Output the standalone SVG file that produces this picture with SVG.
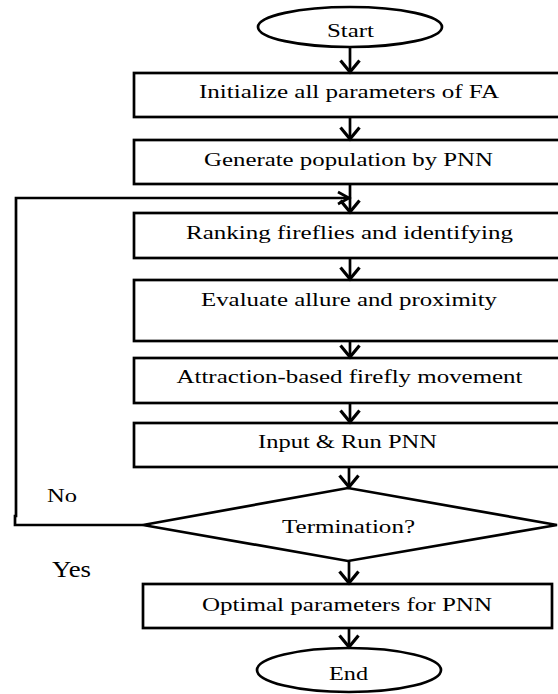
<svg xmlns="http://www.w3.org/2000/svg" width="558" height="694" viewBox="0 0 558 694">
<style>
.n{fill:#fff;stroke:#000;stroke-width:2.7}
.t{font-family:"Liberation Serif","Times New Roman",serif;font-size:19px;fill:#000;text-anchor:middle}
.l{font-family:"Liberation Serif","Times New Roman",serif;fill:#000}
.c{fill:none;stroke:#000;stroke-width:2.7}
</style>
<defs>
<marker id="ah" markerWidth="16" markerHeight="22" refX="14" refY="11" markerUnits="userSpaceOnUse" orient="auto" viewBox="0 0 16 22">
<path d="M1.5,1.5 L13,11 L1.5,20.5" fill="none" stroke="#000" stroke-width="3.2"/>
</marker>
<marker id="ahr" markerWidth="16" markerHeight="16" refX="14" refY="8" markerUnits="userSpaceOnUse" orient="auto" viewBox="0 0 16 16">
<path d="M2,2 L13,8 L2,14" fill="none" stroke="#000" stroke-width="2.7"/>
</marker>
</defs>
<g id="start">
<ellipse class="n" cx="350" cy="27" rx="92" ry="20"/>
<text class="t" x="350.5" y="37" textLength="47" lengthAdjust="spacingAndGlyphs">Start</text>
</g>
<g id="init">
<rect class="n" x="134" y="73" width="430" height="44"/>
<text class="t" x="349" y="98" textLength="300" lengthAdjust="spacingAndGlyphs">Initialize all parameters of FA</text>
</g>
<g id="generate">
<rect class="n" x="134" y="140" width="430" height="44"/>
<text class="t" x="348.5" y="166" textLength="289" lengthAdjust="spacingAndGlyphs">Generate population by PNN</text>
</g>
<g id="ranking">
<rect class="n" x="134" y="213" width="430" height="45"/>
<text class="t" x="349.5" y="239" textLength="327" lengthAdjust="spacingAndGlyphs">Ranking fireflies and identifying</text>
</g>
<g id="evaluate">
<rect class="n" x="134" y="280" width="430" height="61"/>
<text class="t" x="349" y="306" textLength="296" lengthAdjust="spacingAndGlyphs">Evaluate allure and proximity</text>
</g>
<g id="attraction">
<rect class="n" x="134" y="358" width="430" height="45"/>
<text class="t" x="349.5" y="383" textLength="346" lengthAdjust="spacingAndGlyphs">Attraction-based firefly movement</text>
</g>
<g id="input">
<rect class="n" x="134" y="423" width="430" height="44"/>
<text class="t" x="347.5" y="448" textLength="179" lengthAdjust="spacingAndGlyphs">Input &amp; Run PNN</text>
</g>
<g id="termination">
<polygon class="n" points="143,525 348,488 557,525 348,561"/>
<text class="t" x="348.5" y="533" textLength="133" lengthAdjust="spacingAndGlyphs">Termination?</text>
</g>
<g id="optimal">
<rect class="n" x="143" y="584" width="409" height="44"/>
<text class="t" x="347" y="611" textLength="290" lengthAdjust="spacingAndGlyphs">Optimal parameters for PNN</text>
</g>
<g id="end">
<ellipse class="n" cx="349" cy="670" rx="92" ry="22"/>
<text class="t" x="348.5" y="680" textLength="39" lengthAdjust="spacingAndGlyphs">End</text>
</g>
<g id="connectors">
<line class="c" x1="350" y1="47" x2="350" y2="73" marker-end="url(#ah)"/>
<line class="c" x1="350" y1="117" x2="350" y2="140" marker-end="url(#ah)"/>
<line class="c" x1="350" y1="184" x2="350" y2="213" marker-end="url(#ah)"/>
<line class="c" x1="350" y1="258" x2="350" y2="280" marker-end="url(#ah)"/>
<line class="c" x1="350" y1="341" x2="350" y2="358" marker-end="url(#ah)"/>
<line class="c" x1="350" y1="403" x2="350" y2="423" marker-end="url(#ah)"/>
<line class="c" x1="349" y1="467" x2="349" y2="488" marker-end="url(#ah)"/>
<line class="c" x1="349" y1="561" x2="349" y2="584" marker-end="url(#ah)"/>
<line class="c" x1="349" y1="628" x2="349" y2="648" marker-end="url(#ah)"/>
<path class="c" d="M143,525 L15,525 L15,516 L16,516 L16,198 L350,198" marker-end="url(#ahr)"/>
</g>
<text class="l" x="62" y="502" font-size="18" text-anchor="middle" textLength="30" lengthAdjust="spacingAndGlyphs">No</text>
<text class="l" x="71.5" y="577" font-size="24" text-anchor="middle" textLength="39" lengthAdjust="spacingAndGlyphs">Yes</text>
</svg>
